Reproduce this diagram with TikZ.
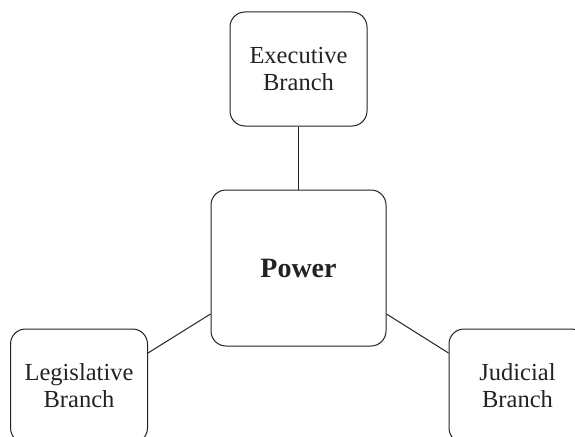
\documentclass[tikz,border=0pt]{standalone}
\usepackage{fontspec}
\setmainfont{Liberation Serif}
\definecolor{ink}{HTML}{222222}
\begin{document}
\begin{tikzpicture}[x=1pt,y=1pt,
  box/.style={draw=ink, line width=1pt, rounded corners=15pt, align=center, text=ink,
    inner sep=0pt, font=\fontsize{24.5}{27}\selectfont},
  branch/.style={box, minimum width=137pt, minimum height=114pt},
  core/.style={box, minimum width=175pt, minimum height=156pt, font=\fontsize{28}{33}\selectfont\bfseries},
  link/.style={draw=ink, line width=1pt}]
\useasboundingbox (0,0) rectangle (575,-436);
\clip (0,0) rectangle (575,-436);
\node[branch] (exe) at (298.5,-69) {Executive\\Branch};
\node[core] (pow) at (298.5,-268) {Power};
\node[branch] (leg) at (79,-386) {Legislative\\Branch};
\node[branch] (jud) at (517.5,-386) {Judicial\\Branch};
\draw[link] (exe.south) -- (pow.north);
\draw[link] ([yshift=33pt]leg.east) -- ([yshift=-46pt]pow.west);
\draw[link] ([yshift=33pt]jud.west) -- ([yshift=-46pt]pow.east);
\end{tikzpicture}
\end{document}
